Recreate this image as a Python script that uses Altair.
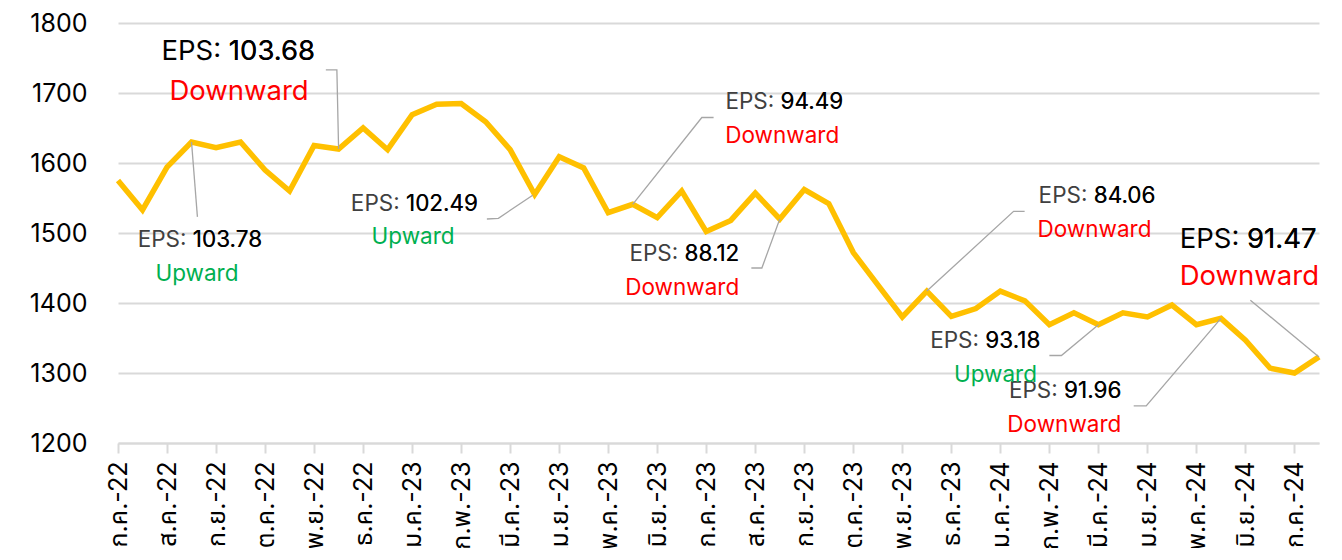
import json
import altair as alt
import pandas as pd

# ---- data -------------------------------------------------------------
months = ["ก.ค.-22", "ส.ค.-22", "ก.ย.-22", "ต.ค.-22", "พ.ย.-22", "ธ.ค.-22",
          "ม.ค.-23", "ก.พ.-23", "มี.ค.-23", "เม.ย.-23", "พ.ค.-23", "มิ.ย.-23",
          "ก.ค.-23", "ส.ค.-23", "ก.ย.-23", "ต.ค.-23", "พ.ย.-23", "ธ.ค.-23",
          "ม.ค.-24", "ก.พ.-24", "มี.ค.-24", "เม.ย.-24", "พ.ค.-24", "มิ.ย.-24",
          "ก.ค.-24"]

# semi-monthly observations (index 0 = start of ก.ค.-22)
period = list(range(50))
index_values = [1575, 1533, 1594, 1630, 1622, 1630, 1590, 1560, 1625, 1620,
                1650, 1619, 1669, 1684, 1685, 1659, 1619, 1555, 1609, 1593,
                1529, 1541, 1522, 1560, 1502, 1518, 1557, 1520, 1562, 1542,
                1472, 1426, 1380, 1417, 1381, 1392, 1417, 1403, 1369, 1386,
                1369, 1386, 1380, 1397, 1369, 1378, 1347, 1307, 1300, 1323]

# annotations
ann_eps = ["103.78", "103.68", "102.49", "94.49", "88.12", "84.06", "93.18", "91.96", "91.47"]
ann_trend = ["Upward", "Downward", "Upward", "Downward", "Downward", "Downward", "Upward", "Downward", "Downward"]
ann_big = [False, True, False, False, False, False, False, False, True]
ann_x_right = [5.88, 8.04, 14.69, 29.59, 25.35, 42.33, 37.63, 40.94, 48.90]
ann_x_center = [3.22, 4.94, 12.04, 27.10, 23.02, 39.84, 35.80, 38.61, 46.16]
ann_y1 = [1490, 1759, 1541, 1687, 1470, 1553, 1346, 1274, 1490]
ann_y2 = [1441, 1701, 1494, 1639, 1421, 1504, 1297, 1226, 1437]

# leader lines (annotation id, x, y) in data units
leader_id = [0, 0, 1, 1, 1, 2, 2, 2, 3, 3, 3, 4, 4, 4, 5, 5, 5, 6, 6, 6, 7, 7, 7, 8, 8]
leader_x = [3, 3.24, 9, 8.93, 8.48, 16.92, 15.52, 15.05, 21, 23.82, 24.3,
            27, 26.27, 25.84, 33, 36.54, 36.99, 40, 38.49, 38.0, 45, 41.95, 41.44, 49, 46.2]
leader_y = [1630, 1523, 1620, 1733, 1733, 1554, 1521, 1520, 1541, 1665, 1665,
            1520, 1450, 1450, 1417, 1531, 1531, 1369, 1325, 1325, 1378, 1253, 1253, 1323, 1404]

# ---- frames -----------------------------------------------------------
df = pd.DataFrame({"x": period, "y": index_values})
ann = pd.DataFrame({
    "eps": ann_eps, "trend": ann_trend, "big": ann_big,
    "xr": ann_x_right, "xc": ann_x_center, "y1": ann_y1, "y2": ann_y2,
})
ann["line1"] = "EPS: " + ann["eps"]
lead = pd.DataFrame({"id": leader_id, "x": leader_x, "y": leader_y})
lead["seq"] = range(len(lead))

FONT = "Inter, 'Noto Sans Thai', 'Noto Sans', sans-serif"
GRID = "#d9d9d9"

xs = alt.Scale(domain=[0, 49], nice=False, zero=False)
ys = alt.Scale(domain=[1200, 1800], nice=False, zero=False)

label_expr = json.dumps(months, ensure_ascii=False) + "[round(datum.value / 2)]"

x_axis = alt.Axis(
    values=list(range(0, 50, 2)), labelExpr=label_expr, title=None,
    grid=False, domainColor=GRID, domainWidth=2, tickColor=GRID, tickWidth=2,
    tickSize=10, labelAngle=-90, labelFontSize=25, labelFont=FONT,
    labelColor="#000000", labelPadding=8, labelOverlap=False,
    labelAlign="right", labelBaseline="middle")
y_axis = alt.Axis(
    values=list(range(1200, 1801, 100)), format="d", title=None, grid=True,
    gridColor=GRID, gridWidth=2, domain=False, ticks=False,
    labelFontSize=25, labelFont=FONT, labelColor="#000000", labelPadding=31)

line = alt.Chart(df).mark_line(color="#FFC000", strokeWidth=5.5, strokeJoin="miter").encode(
    x=alt.X("x:Q", scale=xs, axis=x_axis),
    y=alt.Y("y:Q", scale=ys, axis=y_axis),
)

leaders = alt.Chart(lead).mark_line(color="#a6a6a6", strokeWidth=1.3).encode(
    x=alt.X("x:Q", scale=xs, axis=x_axis),
    y=alt.Y("y:Q", scale=ys, axis=y_axis),
    detail="id:N",
    order="seq:Q",
)

size_enc = alt.Size("big:N", scale=alt.Scale(domain=[False, True], range=[22.5, 27.5]), legend=None)

t1_gray = alt.Chart(ann).mark_text(align="right", baseline="middle", font=FONT).encode(
    x=alt.X("xr:Q", scale=xs, axis=x_axis),
    y=alt.Y("y1:Q", scale=ys, axis=y_axis),
    text="line1:N",
    size=size_enc,
    color=alt.Color("big:N", scale=alt.Scale(domain=[False, True], range=["#404040", "#000000"]), legend=None),
)
t1_num = alt.Chart(ann).mark_text(align="right", baseline="middle", font=FONT, color="#000000").encode(
    x=alt.X("xr:Q", scale=xs, axis=x_axis),
    y=alt.Y("y1:Q", scale=ys, axis=y_axis),
    text="eps:N",
    size=size_enc,
)
t2 = alt.Chart(ann).mark_text(align="center", baseline="middle", font=FONT).encode(
    x=alt.X("xc:Q", scale=xs, axis=x_axis),
    y=alt.Y("y2:Q", scale=ys, axis=y_axis),
    text="trend:N",
    size=size_enc,
    color=alt.Color("trend:N", scale=alt.Scale(domain=["Upward", "Downward"], range=["#00B050", "#FF0000"]), legend=None),
)

chart = alt.layer(line, leaders, t1_gray, t1_num, t2).resolve_scale(
    color="independent", size="independent"
).properties(
    width=1201, height=420,
    autosize=alt.AutoSizeParams(type="none"),
    padding={"left": 110, "top": 15, "right": 15, "bottom": 105},
).configure_view(stroke=None)

chart.save("out.html", embed_options={"renderer": "svg", "actions": False})
